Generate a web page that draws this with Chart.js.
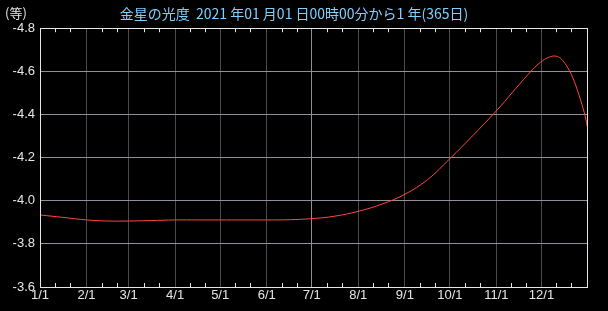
<!DOCTYPE html>
<html>
<head>
<meta charset="utf-8">
<script src="https://cdn.jsdelivr.net/npm/chart.js@4.4.0/dist/chart.umd.min.js"></script>
<style>
  html, body { margin: 0; padding: 0; background: #000; }
  canvas { display: block; }
</style>
</head>
<body>
<canvas id="venusChart" width="608" height="311"></canvas>
<script>
const titleText = "金星の光度  2021 年01 月01 日00時00分から1 年(365日)";
const unitLabel = "(等)";

// day of year (0 = 1/1) and magnitude
const days = [0, 15, 31, 45, 59, 74, 90, 105, 120, 135, 151, 166, 181, 196, 212, 228, 243, 258, 273, 288, 304, 315, 325, 331, 336, 340, 343, 346, 349, 352, 355, 358, 361, 363, 365];
const mags = [-3.934, -3.923, -3.911, -3.906, -3.906, -3.908, -3.911, -3.911, -3.911, -3.911, -3.911, -3.912, -3.917, -3.928, -3.951, -3.985, -4.030, -4.097, -4.195, -4.300, -4.417, -4.505, -4.585, -4.628, -4.655, -4.668, -4.671, -4.664, -4.643, -4.611, -4.568, -4.512, -4.445, -4.395, -4.329];

const monthStarts = [0, 31, 59, 90, 120, 151, 181, 212, 243, 273, 304, 334];
const monthLabels = ["1/1", "2/1", "3/1", "4/1", "5/1", "6/1", "7/1", "8/1", "9/1", "10/1", "11/1", "12/1"];
const minorOffsets = [10, 20];

const frame = {
  id: 'frame',
  afterDraw(chart) {
    const { ctx, chartArea: a, scales: { x } } = chart;
    ctx.save();
    ctx.strokeStyle = '#e6e6e6';
    ctx.lineWidth = 1;
    ctx.beginPath();
    monthStarts.forEach(m => minorOffsets.forEach(o => {
      const px = Math.round(x.getPixelForValue(m + o)) + 0.5;
      ctx.moveTo(px, a.top); ctx.lineTo(px, a.top + 4);
      ctx.moveTo(px, a.bottom); ctx.lineTo(px, a.bottom - 4);
    }));
    ctx.stroke();
    ctx.strokeRect(Math.round(a.left) + 0.5, Math.round(a.top) + 0.5,
      Math.round(a.width) - 1, Math.round(a.height));
    ctx.fillStyle = '#e6e6e6';
    ctx.font = "13px 'Noto Sans CJK JP'";
    ctx.textBaseline = 'middle';
    ctx.fillText(unitLabel, 5, 13);
    ctx.restore();
  }
};

const ctx = document.getElementById("venusChart").getContext("2d");
new Chart(ctx, {
  type: 'line',
  data: {
    datasets: [{
      data: days.map((d, i) => ({ x: d, y: mags[i] })),
      borderColor: '#ff4545',
      borderWidth: 1,
      pointRadius: 0,
      tension: 0.4,
      fill: false
    }]
  },
  options: {
    responsive: false,
    animation: false,
    devicePixelRatio: 1,
    layout: { padding: { left: 0, right: 20, top: 0, bottom: 0 } },
    plugins: {
      legend: { display: false },
      tooltip: { enabled: false },
      title: {
        display: true,
        text: titleText,
        color: '#80d0ff',
        font: { family: "'Noto Sans CJK JP'", size: 14, weight: 'normal' },
        padding: { top: 5, bottom: 6.4 }
      }
    },
    scales: {
      x: {
        type: 'linear',
        min: 0,
        max: 365,
        afterBuildTicks: s => { s.ticks = monthStarts.map(v => ({ value: v })); },
        afterFit: s => { s.height = 24; },
        border: { display: false },
        grid: {
          drawTicks: false,
          color: c => (c.tick && c.tick.value === 181) ? '#968c9a' : '#4a4a4a'
        },
        ticks: {
          autoSkip: false,
          maxRotation: 0,
          padding: 1,
          color: '#e6e6e6',
          font: { family: "'Liberation Sans'", size: 13 },
          callback: v => monthLabels[monthStarts.indexOf(v)]
        }
      },
      y: {
        min: -4.8,
        max: -3.6,
        reverse: true,
        afterFit: s => { s.width = 40; },
        border: { display: false },
        grid: { drawTicks: false, color: '#968c9a' },
        ticks: {
          stepSize: 0.2,
          padding: 5,
          color: '#e6e6e6',
          font: { family: "'Liberation Sans'", size: 13 },
          callback: v => v.toFixed(1)
        }
      }
    }
  },
  plugins: [frame]
});
</script>
</body>
</html>
